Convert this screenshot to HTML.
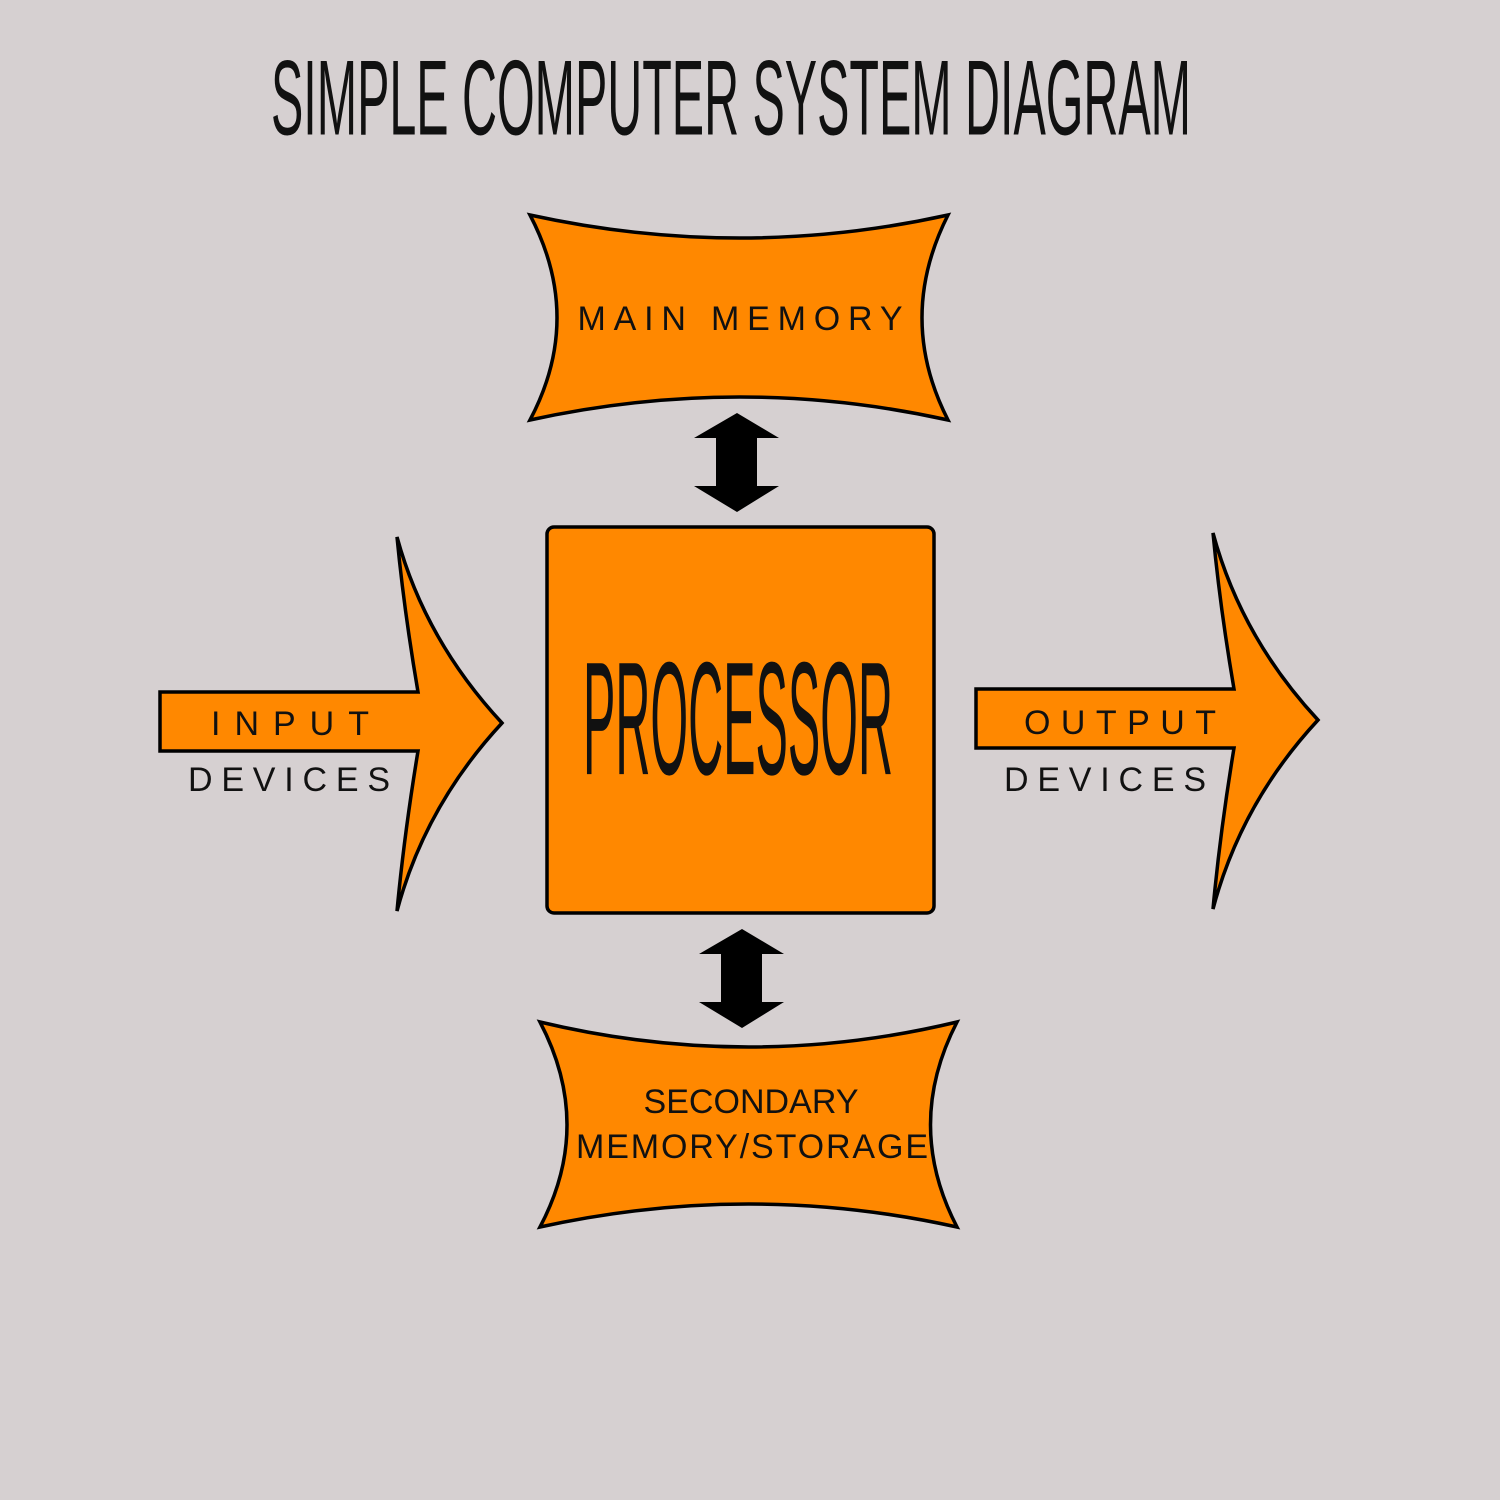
<!DOCTYPE html>
<html><head><meta charset="utf-8"><style>
html,body{margin:0;padding:0;background:#d6d0d1;}
svg{display:block}
text{font-family:"Liberation Sans",sans-serif;}
</style></head><body>
<svg width="1500" height="1500" viewBox="0 0 1500 1500" xmlns="http://www.w3.org/2000/svg">
<rect width="1500" height="1500" fill="#d6d0d1"/>
<text x="731" y="131" text-anchor="middle" font-size="76" fill="#111" transform="translate(0,-49) scale(1,1.4)" style="font-family:'Liberation Sans Narrow','Liberation Sans',sans-serif" textLength="920" lengthAdjust="spacingAndGlyphs">SIMPLE COMPUTER SYSTEM DIAGRAM</text>

<g fill="#ff8800" stroke="#000" stroke-width="3.5" stroke-linejoin="miter">
<path d="M530,215 Q740,261 948,215 Q896,318 948,420 Q740,374 530,420 Q584,318 530,215 Z"/>
<path d="M540,1022 Q749,1072 957,1022 Q904,1125 957,1227 Q749,1181 540,1227 Q594,1125 540,1022 Z"/>
<rect x="547" y="527" width="387" height="386" rx="7"/>
<path d="M160,692 L418,692 Q404,610 397,537 Q425,640 502,723 Q425,806 397,911 Q404,836 418,751 L160,751 Z"/>
<path d="M976,689 L1234,689 Q1220,607 1213,533 Q1241,637 1318,720 Q1241,803 1213,909 Q1220,833 1234,748 L976,748 Z"/>
</g>
<g fill="#000">
<path d="M737,413 L779,438 L757,438 L757,486 L779,486 L737,512 L694,486 L716,486 L716,438 L694,438 Z"/>
<path d="M742,929 L784,954 L762,954 L762,1002 L784,1002 L742,1028 L699,1002 L721,1002 L721,954 L699,954 Z"/>
</g>
<g fill="#111" font-size="34">
<text x="740" y="330" text-anchor="middle" textLength="325" lengthAdjust="spacing">MAIN MEMORY</text>
<text x="751" y="1113" text-anchor="middle" textLength="215" lengthAdjust="spacing">SECONDARY</text>
<text x="752" y="1158" text-anchor="middle" textLength="352" lengthAdjust="spacing">MEMORY/STORAGE</text>
<text x="290" y="735" text-anchor="middle" textLength="158" lengthAdjust="spacing">INPUT</text>
<text x="289" y="791" text-anchor="middle" textLength="202" lengthAdjust="spacing">DEVICES</text>
<text x="1120" y="734" text-anchor="middle" textLength="192" lengthAdjust="spacing">OUTPUT</text>
<text x="1105" y="791" text-anchor="middle" textLength="202" lengthAdjust="spacing">DEVICES</text>
</g>
<text x="738" y="423" text-anchor="middle" font-size="88" fill="#111" transform="scale(1,1.83)" style="font-family:'Liberation Sans Narrow','Liberation Sans',sans-serif" textLength="310" lengthAdjust="spacingAndGlyphs">PROCESSOR</text>
</svg>
</body></html>
